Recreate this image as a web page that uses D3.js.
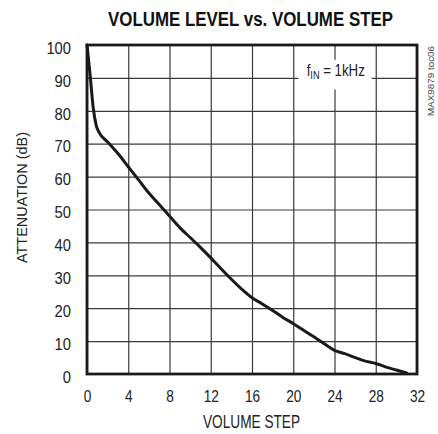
<!DOCTYPE html>
<html><head><meta charset="utf-8">
<script src="https://cdn.jsdelivr.net/npm/d3@7"></script>
<style>
body{margin:0;background:#fff;}
svg{display:block;}
</style></head>
<body>
<svg id="chart" width="438" height="434"></svg>
<script>
const steps = [0,0.3,0.6,0.9,1.2,2,3,4,5,6,7,8,9,10,11,12,13,14,15,16,17,18,19,20,21,22,23,24,25,26,27,28,29,30,31];
const attenuation = [100,91,81,75.5,73.3,70.5,67,63,59,55,51.5,48,44.5,41.5,38.5,35.3,32,28.8,25.8,23.2,21.3,19.3,17.2,15.3,13.3,11.3,9.2,7.2,6.2,5,3.9,3.2,2.1,1.2,0.3];
const xTicks = [0,4,8,12,16,20,24,28,32];
const yTicks = [0,10,20,30,40,50,60,70,80,90,100];
const title = "VOLUME LEVEL vs. VOLUME STEP";
const xTitle = "VOLUME STEP";
const yTitle = "ATTENUATION (dB)";
const note = "MAX9879 toc06";

const svg = d3.select("#chart");
const L = 87, R = 417, T = 45, B = 374;
const x = d3.scaleLinear().domain([0,32]).range([L,R]);
const y = d3.scaleLinear().domain([0,100]).range([B,T]);
const font = "'Liberation Sans',Arial,sans-serif";

// grid
const gx = svg.append("g").attr("transform",`translate(0,${B})`)
  .call(d3.axisBottom(x).tickValues(xTicks).tickSize(-(B-T)).tickFormat(""));
const gy = svg.append("g").attr("transform",`translate(${L},0)`)
  .call(d3.axisLeft(y).tickValues(yTicks).tickSize(-(R-L)).tickFormat(""));
[gx,gy].forEach(g=>{
  g.select(".domain").remove();
  g.selectAll("line").attr("stroke","#3a3a3a").attr("stroke-width",1.2);
});

// annotation box masking grid
const ann = svg.append("g");
ann.append("rect").attr("x",x(20.5)).attr("y",y(95.5)).attr("width",x(27.6)-x(20.5)).attr("height",y(86.5)-y(95.5)).attr("fill","#fff");
const at = ann.append("text")
  .attr("transform",`translate(${x(21.3)},${y(90)-1.5}) scale(0.83,1)`)
  .attr("font-family",font).attr("font-size",16).attr("fill","#222");
at.append("tspan").text("f");
at.append("tspan").attr("font-size",11).attr("dy",3).text("IN");
at.append("tspan").attr("dy",-3).text(" = 1kHz");

// curve
svg.append("path")
  .datum(steps.map((s,i)=>[s,attenuation[i]]))
  .attr("fill","none").attr("stroke","#1a1a1a").attr("stroke-width",3)
  .attr("stroke-linejoin","round").attr("stroke-linecap","round")
  .attr("d", d3.line().x(d=>x(d[0])).y(d=>y(d[1])).curve(d3.curveMonotoneX));

// frame
svg.append("rect").attr("x",L).attr("y",T).attr("width",R-L).attr("height",B-T)
  .attr("fill","none").attr("stroke","#1a1a1a").attr("stroke-width",2.8);

// tick labels via axes
const ax = svg.append("g").attr("transform",`translate(0,${B})`)
  .call(d3.axisBottom(x).tickValues(xTicks).tickSize(0).tickPadding(0).tickFormat(d3.format("d")));
ax.select(".domain").remove();
ax.selectAll("text").attr("font-family",font).attr("font-size",17).attr("fill","#222")
  .attr("y",28).attr("dy",null)
  .attr("textLength",d=>String(d).length*7.6).attr("lengthAdjust","spacingAndGlyphs");

const ay = svg.append("g").attr("transform",`translate(${L},0)`)
  .call(d3.axisLeft(y).tickValues(yTicks).tickSize(0).tickPadding(0).tickFormat(d3.format("d")));
ay.select(".domain").remove();
ay.selectAll("text").attr("font-family",font).attr("font-size",16).attr("fill","#222")
  .attr("x",-16).attr("dy",null).attr("y",8.2)
  .attr("textLength",d=>String(d).length*8.2).attr("lengthAdjust","spacingAndGlyphs");

// titles
svg.append("text").attr("x",250.5).attr("y",26).attr("text-anchor","middle")
  .attr("font-family",font).attr("font-weight","bold").attr("font-size",19.5)
  .attr("textLength",285).attr("lengthAdjust","spacingAndGlyphs")
  .attr("fill","#111").text(title);
svg.append("text").attr("x",251.5).attr("y",428).attr("text-anchor","middle")
  .attr("font-family",font).attr("font-size",19)
  .attr("textLength",97).attr("lengthAdjust","spacingAndGlyphs")
  .attr("fill","#222").text(xTitle);
svg.append("text").attr("transform","translate(27,197.5) rotate(-90)").attr("text-anchor","middle")
  .attr("font-family",font).attr("font-size",14)
  .attr("textLength",131).attr("lengthAdjust","spacingAndGlyphs")
  .attr("fill","#222").text(yTitle);
svg.append("text").attr("transform","translate(434,81) rotate(-90)").attr("text-anchor","middle")
  .attr("font-family",font).attr("font-size",9)
  .attr("textLength",70).attr("lengthAdjust","spacingAndGlyphs")
  .attr("fill","#444").text(note);
</script>
</body></html>
